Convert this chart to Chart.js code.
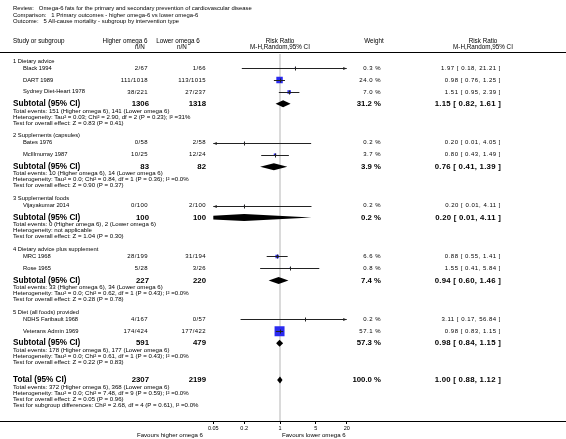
<!DOCTYPE html>
<html>
<head>
<meta charset="utf-8">
<title>Omega-6 fats - all-cause mortality by intervention type</title>
<script src="https://cdn.jsdelivr.net/npm/chart.js@4.4.1/dist/chart.umd.min.js"></script>
<style>
  html, body { margin: 0; padding: 0; background: #fff; }
  #wrap { width: 566px; height: 439px; }
</style>
</head>
<body>
<div id="wrap"><canvas id="forest" width="566" height="439"></canvas></div>
<script>
// ---- data ----
const groupNames = ['1 Dietary advice', '2 Supplements (capsules)', '3 Supplemental foods',
                    '4 Dietary advice plus supplement', '5 Diet (all foods) provided'];

const studyNames = ['Black 1994', 'DART 1989', 'Sydney Diet-Heart 1978', 'Bates 1976', 'McIllmurray 1987',
                    'Vijayakumar 2014', 'MRC 1968', 'Rose 1965', 'NDHS Faribault 1968', 'Veterans Admin 1969'];
const studyGroup = [0, 0, 0, 1, 1, 2, 3, 3, 4, 4];
const higherNN = ['2/67', '111/1018', '38/221', '0/58', '10/25', '0/100', '28/199', '5/28', '4/167', '174/424'];
const lowerNN  = ['1/66', '113/1015', '27/237', '2/58', '12/24', '2/100', '31/194', '3/26', '0/57', '177/422'];
const weights  = [0.3, 24.0, 7.0, 0.2, 3.7, 0.2, 6.6, 0.8, 0.2, 57.1];
const rr       = [1.97, 0.98, 1.51, 0.20, 0.80, 0.20, 0.88, 1.55, 3.11, 0.98];
const rrLow    = [0.18, 0.76, 0.95, 0.01, 0.43, 0.01, 0.55, 0.41, 0.17, 0.83];
const rrHigh   = [21.21, 1.25, 2.39, 4.05, 1.49, 4.11, 1.41, 5.84, 56.84, 1.15];

const subHigherN = [1306, 83, 100, 227, 591];
const subLowerN  = [1318, 82, 100, 220, 479];
const subWeight  = [31.2, 3.9, 0.2, 7.4, 57.3];
const subRR      = [1.15, 0.76, 0.20, 0.94, 0.98];
const subLow     = [0.82, 0.41, 0.01, 0.60, 0.84];
const subHigh    = [1.61, 1.39, 4.11, 1.46, 1.15];
const subNotes = [
  ['Total events: 151 (Higher omega 6), 141 (Lower omega 6)',
   'Heterogeneity: Tau\u00b2 = 0.03; Chi\u00b2 = 2.90, df = 2 (P = 0.23); I\u00b2 =31%',
   'Test for overall effect: Z = 0.83 (P = 0.41)'],
  ['Total events: 10 (Higher omega 6), 14 (Lower omega 6)',
   'Heterogeneity: Tau\u00b2 = 0.0; Chi\u00b2 = 0.84, df = 1 (P = 0.36); I\u00b2 =0.0%',
   'Test for overall effect: Z = 0.90 (P = 0.37)'],
  ['Total events: 0 (Higher omega 6), 2 (Lower omega 6)',
   'Heterogeneity: not applicable',
   'Test for overall effect: Z = 1.04 (P = 0.30)'],
  ['Total events: 33 (Higher omega 6), 34 (Lower omega 6)',
   'Heterogeneity: Tau\u00b2 = 0.0; Chi\u00b2 = 0.62, df = 1 (P = 0.43); I\u00b2 =0.0%',
   'Test for overall effect: Z = 0.28 (P = 0.78)'],
  ['Total events: 178 (Higher omega 6), 177 (Lower omega 6)',
   'Heterogeneity: Tau\u00b2 = 0.0; Chi\u00b2 = 0.61, df = 1 (P = 0.43); I\u00b2 =0.0%',
   'Test for overall effect: Z = 0.22 (P = 0.83)']
];

const totalHigherN = 2307, totalLowerN = 2199, totalWeight = 100.0;
const totalRR = 1.00, totalLow = 0.88, totalHigh = 1.12;
const totalNotes = [
  'Total events: 372 (Higher omega 6), 368 (Lower omega 6)',
  'Heterogeneity: Tau\u00b2 = 0.0; Chi\u00b2 = 7.48, df = 9 (P = 0.59); I\u00b2 =0.0%',
  'Test for overall effect: Z = 0.05 (P = 0.96)',
  'Test for subgroup differences: Chi\u00b2 = 2.68, df = 4 (P = 0.61), I\u00b2 =0.0%'
];

const titleLines = [
  'Review:   Omega-6 fats for the primary and secondary prevention of cardiovascular disease',
  'Comparison:   1 Primary outcomes - higher omega-6 vs lower omega-6',
  'Outcome:   5 All-cause mortality - subgroup by intervention type'
];
const tickValues = [0.05, 0.2, 1, 5, 20];
const tickLabels = ['0.05', '0.2', '1', '5', '20'];

// ---- row layout (in y-axis units) ----
const SP = { afterHeader: 7, study: 12, subtotal: 12, firstNote: 7, note: 6, nextGroup: 13, total: 18 };
var headerY = [], studyY = [], subY = [], noteY = [];
var yy = 0;
groupNames.forEach(function (g, gi) {
  if (gi > 0) yy += SP.nextGroup;
  headerY.push(yy);
  yy += SP.afterHeader;
  var first = true;
  studyNames.forEach(function (s, i) {
    if (studyGroup[i] !== gi) return;
    if (!first) yy += SP.study;
    studyY[i] = yy;
    first = false;
  });
  yy += SP.subtotal; subY.push(yy);
  var ny = [];
  yy += SP.firstNote; ny.push(yy);
  yy += SP.note; ny.push(yy);
  yy += SP.note; ny.push(yy);
  noteY.push(ny);
});
yy += SP.total;
var totalY = yy;
var totalNoteY = [];
yy += SP.firstNote; totalNoteY.push(yy);
for (var k = 1; k < totalNotes.length; k++) { yy += SP.note; totalNoteY.push(yy); }

const FONT = '"Liberation Sans", Arial, Helvetica, sans-serif';
const COL = { label: 13, study: 23, higher: 148, lower: 206, weight: 381, rr: 501 };

function txt(ctx, s, x, y, align, size, bold, spacing) {
  ctx.font = (bold ? 'bold ' : '') + size + 'px ' + FONT;
  ctx.letterSpacing = (spacing || 0) + 'px';
  ctx.textAlign = align;
  ctx.textBaseline = 'middle';
  ctx.fillStyle = '#000';
  ctx.fillText(s, x, y);
  ctx.letterSpacing = '0px';
}
function ciText(e, l, h) {
  return e.toFixed(2) + ' [ ' + l.toFixed(2) + ', ' + h.toFixed(2) + ' ]';
}

const forestPlugin = {
  id: 'forest',
  beforeDatasetsDraw(chart) {
    const ctx = chart.ctx, a = chart.chartArea, x = chart.scales.x;
    const px = x.getPixelForValue(1);
    ctx.save();
    ctx.strokeStyle = '#dadada';
    ctx.lineWidth = 2;
    ctx.beginPath(); ctx.moveTo(px, a.top); ctx.lineTo(px, a.bottom); ctx.stroke();
    ctx.restore();
  },
  afterDatasetsDraw(chart) {
    const ctx = chart.ctx, a = chart.chartArea, x = chart.scales.x, y = chart.scales.y;
    ctx.save();
    ctx.strokeStyle = '#222';
    ctx.fillStyle = '#222';
    ctx.lineWidth = 1;
    studyNames.forEach(function (s, i) {
      const yp = Math.round(y.getPixelForValue(studyY[i])) + 0.5;
      const l = Math.max(rrLow[i], x.min), h = Math.min(rrHigh[i], x.max);
      const xl = x.getPixelForValue(l), xh = x.getPixelForValue(h), xe = x.getPixelForValue(rr[i]);
      ctx.beginPath(); ctx.moveTo(xl, yp); ctx.lineTo(xh, yp); ctx.stroke();
      ctx.beginPath(); ctx.moveTo(Math.round(xe) + 0.5, yp - 2); ctx.lineTo(Math.round(xe) + 0.5, yp + 2); ctx.stroke();
      if (rrLow[i] < x.min) {
        ctx.beginPath(); ctx.moveTo(xl, yp); ctx.lineTo(xl + 3.5, yp - 1.6); ctx.lineTo(xl + 3.5, yp + 1.6); ctx.closePath(); ctx.fill();
      }
      if (rrHigh[i] > x.max) {
        ctx.beginPath(); ctx.moveTo(xh, yp); ctx.lineTo(xh - 3.5, yp - 1.6); ctx.lineTo(xh - 3.5, yp + 1.6); ctx.closePath(); ctx.fill();
      }
    });
    ctx.restore();

    // diamonds (clipped to the plot area)
    ctx.save();
    ctx.beginPath(); ctx.rect(a.left, a.top, a.right - a.left, a.bottom - a.top); ctx.clip();
    ctx.fillStyle = '#000';
    function diamond(yv, e, l, h) {
      const yp = y.getPixelForValue(yv);
      const xl = x.getPixelForValue(l), xh = x.getPixelForValue(h), xe = x.getPixelForValue(e);
      ctx.beginPath();
      ctx.moveTo(xl, yp); ctx.lineTo(xe, yp - 3.5); ctx.lineTo(xh, yp); ctx.lineTo(xe, yp + 3.5);
      ctx.closePath(); ctx.fill();
    }
    subRR.forEach(function (e, g) { diamond(subY[g], e, subLow[g], subHigh[g]); });
    diamond(totalY, totalRR, totalLow, totalHigh);
    ctx.restore();
  },
  afterDraw(chart) {
    const ctx = chart.ctx, a = chart.chartArea, x = chart.scales.x, y = chart.scales.y;
    const W = chart.width;
    ctx.save();
    // title block
    titleLines.forEach(function (t, i) { txt(ctx, t, COL.label, 8.5 + i * 6.5, 'left', 5.9, false); });
    // column headers
    txt(ctx, 'Study or subgroup', COL.label, 41.5, 'left', 6.3, false);
    txt(ctx, 'Higher omega 6', 125, 41.5, 'center', 6.3, false);
    txt(ctx, 'n/N', 140, 47.5, 'center', 6.3, false);
    txt(ctx, 'Lower omega 6', 178, 41.5, 'center', 6.3, false);
    txt(ctx, 'n/N', 182, 47.5, 'center', 6.3, false);
    txt(ctx, 'Risk Ratio', x.getPixelForValue(1), 41.5, 'center', 6.3, false);
    txt(ctx, 'M-H,Random,95% CI', x.getPixelForValue(1), 47.5, 'center', 6.3, false);
    txt(ctx, 'Weight', 374, 41.5, 'center', 6.3, false);
    txt(ctx, 'Risk Ratio', 483, 41.5, 'center', 6.3, false);
    txt(ctx, 'M-H,Random,95% CI', 483, 47.5, 'center', 6.3, false);
    ctx.strokeStyle = '#000'; ctx.lineWidth = 1;
    ctx.beginPath(); ctx.moveTo(0, 52.5); ctx.lineTo(W, 52.5); ctx.stroke();

    // groups
    groupNames.forEach(function (g, gi) {
      txt(ctx, g, COL.label, y.getPixelForValue(headerY[gi]), 'left', 5.8, false);
      const ys = y.getPixelForValue(subY[gi]);
      txt(ctx, 'Subtotal (95% CI)', COL.label, ys, 'left', 8.2, true);
      txt(ctx, String(subHigherN[gi]), COL.higher + 1, ys, 'right', 7.8, true);
      txt(ctx, String(subLowerN[gi]), COL.lower, ys, 'right', 7.8, true);
      txt(ctx, subWeight[gi].toFixed(1) + ' %', COL.weight, ys, 'right', 7.8, true);
      txt(ctx, ciText(subRR[gi], subLow[gi], subHigh[gi]), COL.rr, ys, 'right', 7.8, true, 0.25);
      subNotes[gi].forEach(function (n, k) {
        txt(ctx, n, COL.label, y.getPixelForValue(noteY[gi][k]), 'left', 6.1, false);
      });
    });
    // studies
    studyNames.forEach(function (s, i) {
      const yp = y.getPixelForValue(studyY[i]);
      txt(ctx, s, COL.study, yp, 'left', 5.8, false);
      txt(ctx, higherNN[i], COL.higher, yp, 'right', 6, false, 0.4);
      txt(ctx, lowerNN[i], COL.lower, yp, 'right', 6, false, 0.4);
      txt(ctx, weights[i].toFixed(1) + ' %', COL.weight, yp, 'right', 6, false, 0.5);
      txt(ctx, ciText(rr[i], rrLow[i], rrHigh[i]), COL.rr, yp, 'right', 6, false, 0.5);
    });
    // overall total
    const yt = y.getPixelForValue(totalY);
    txt(ctx, 'Total (95% CI)', COL.label, yt, 'left', 8.2, true);
    txt(ctx, String(totalHigherN), COL.higher + 1, yt, 'right', 7.8, true);
    txt(ctx, String(totalLowerN), COL.lower, yt, 'right', 7.8, true);
    txt(ctx, totalWeight.toFixed(1) + ' %', COL.weight, yt, 'right', 7.8, true);
    txt(ctx, ciText(totalRR, totalLow, totalHigh), COL.rr, yt, 'right', 7.8, true, 0.25);
    totalNotes.forEach(function (n, k) {
      txt(ctx, n, COL.label, y.getPixelForValue(totalNoteY[k]), 'left', 6.1, false);
    });

    // full-width axis line and favours labels
    ctx.beginPath(); ctx.moveTo(0, Math.round(a.bottom) + 0.5); ctx.lineTo(W, Math.round(a.bottom) + 0.5); ctx.stroke();
    txt(ctx, 'Favours higher omega 6', 203, 435, 'right', 6.1, false);
    txt(ctx, 'Favours lower omega 6', 282, 435, 'left', 6.1, false);
    ctx.restore();
  }
};

const ctx = document.getElementById('forest').getContext('2d');
new Chart(ctx, {
  type: 'scatter',
  data: {
    datasets: [{
      label: 'Study estimates',
      data: studyNames.map(function (s, i) { return { x: rr[i], y: studyY[i] }; }),
      pointStyle: 'rect',
      pointRadius: weights.map(function (w) { return 1.32 * Math.sqrt(w) / Math.SQRT2; }),
      backgroundColor: '#2a2af0',
      borderWidth: 0
    }]
  },
  options: {
    responsive: false,
    animation: false,
    devicePixelRatio: 1,
    layout: { padding: { left: 213.3, right: 219.3, top: 54, bottom: 6 } },
    plugins: { legend: { display: false }, tooltip: { enabled: false } },
    scales: {
      x: {
        type: 'logarithmic',
        min: 0.05, max: 20,
        afterBuildTicks: function (s) { s.ticks = tickValues.map(function (v) { return { value: v }; }); },
        afterFit: function (s) { s.height = 12; },
        ticks: {
          autoSkip: false, maxRotation: 0, padding: 1, color: '#000',
          font: { size: 5.5, family: FONT },
          callback: function (v, i) { return tickLabels[i]; }
        },
        grid: { display: true, drawOnChartArea: false, drawTicks: true, tickLength: 3, color: '#000' },
        border: { display: true, color: '#000' }
      },
      y: {
        type: 'linear', display: false, reverse: true,
        min: -7, max: 361
      }
    }
  },
  plugins: [forestPlugin]
});
</script>
</body>
</html>
